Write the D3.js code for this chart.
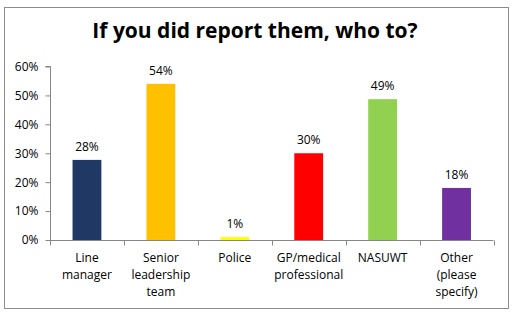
<!DOCTYPE html>
<html>
<head>
<meta charset="utf-8">
<script src="https://cdn.jsdelivr.net/npm/d3@7"></script>
<style>
html,body{margin:0;padding:0;background:#fff;}
svg{display:block;}
text{font-family:"Open Sans","Liberation Sans",sans-serif;}
</style>
</head>
<body>
<svg id="chart" width="515" height="315"></svg>
<script>
const title = "If you did report them, who to?";
const categories = [
  ["Line", "manager"],
  ["Senior", "leadership", "team"],
  ["Police"],
  ["GP/medical", "professional"],
  ["NASUWT"],
  ["Other", "(please", "specify)"]
];
const values = [0.277, 0.54, 0.01, 0.30, 0.487, 0.18];
const colors = ["#1F3864", "#FFC000", "#FFFF00", "#FF0000", "#92D050", "#7030A0"];
const yTicks = [0, 0.1, 0.2, 0.3, 0.4, 0.5, 0.6];

(function () {
const svg = d3.select("#chart");
svg.append("rect").attr("x", 4.5).attr("y", 7.5).attr("width", 504).attr("height", 301)
  .attr("fill", "#fff").attr("stroke", "#8c8c8c").attr("stroke-width", 1);

svg.append("text").attr("x", 255).attr("y", 38).attr("text-anchor", "middle")
  .attr("font-size", 21).attr("font-weight", "bold").attr("fill", "#000").text(title);

const pLeft = 50, pRight = 493.5, pTop = 66.5, pBottom = 240;
const x = d3.scaleBand().domain(d3.range(categories.length)).range([pLeft, pRight]).paddingInner(0.61).paddingOuter(0.305);
const y = d3.scaleLinear().domain([0, 0.6]).range([pBottom, pTop]);
const band = (pRight - pLeft) / categories.length;

// y axis
const yAxis = d3.axisLeft(y).tickValues(yTicks).tickFormat(d3.format(".0%")).tickSize(5).tickPadding(7);
const gy = svg.append("g").attr("transform", `translate(${pLeft + 0.5},0)`).call(yAxis);
gy.select(".domain").attr("stroke", "#868686").attr("d", `M-5,${pTop}H0V${pBottom}`);
gy.selectAll(".tick line").attr("stroke", "#868686");
gy.selectAll(".tick text").attr("font-size", 12).attr("fill", "#000")
  .attr("font-family", "'Open Sans','Liberation Sans',sans-serif");

// bars
svg.selectAll("rect.bar").data(values).join("rect").attr("class", "bar")
  .attr("x", (d, i) => x(i)).attr("width", x.bandwidth())
  .attr("y", d => y(d)).attr("height", d => pBottom - y(d))
  .attr("fill", (d, i) => colors[i]);

// x axis
const gx = svg.append("g").attr("transform", `translate(0,${pBottom + 0.5})`);
gx.append("path").attr("d", `M${pLeft},0H${pRight}`).attr("stroke", "#868686").attr("fill", "none");
gx.selectAll("line").data(d3.range(categories.length + 1)).join("line")
  .attr("x1", i => Math.round(pLeft + i * band) + 0.5).attr("x2", i => Math.round(pLeft + i * band) + 0.5)
  .attr("y1", 0).attr("y2", 5).attr("stroke", "#868686");

// category labels
categories.forEach((lines, i) => {
  const t = svg.append("text").attr("text-anchor", "middle").attr("font-size", 12).attr("fill", "#000");
  lines.forEach((ln, j) => {
    t.append("tspan").attr("x", x(i) + x.bandwidth() / 2).attr("y", 262 + j * 17).text(ln);
  });
});

// value labels
svg.selectAll("text.val").data(values).join("text").attr("class", "val")
  .attr("x", (d, i) => x(i) + x.bandwidth() / 2).attr("y", d => y(d) - 9)
  .attr("text-anchor", "middle").attr("font-size", 12).attr("fill", "#000")
  .text(d => d3.format(".0%")(d));
})();
</script>
</body>
</html>
